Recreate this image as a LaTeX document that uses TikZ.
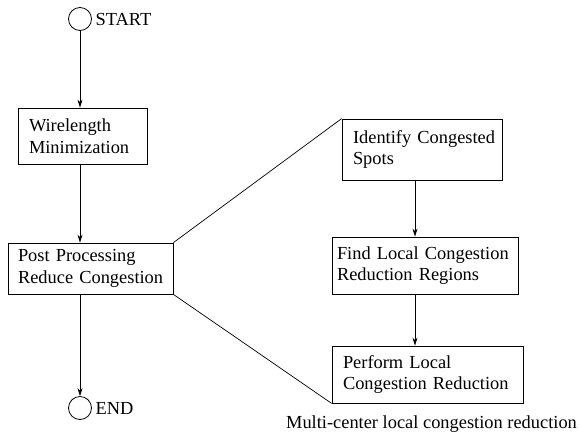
\documentclass[tikz,border=0pt]{standalone}
\usepackage{fontspec}
\setmainfont{Liberation Serif}
\usetikzlibrary{arrows.meta}
\newcommand{\lns}[2]{\mbox{#1}\\\mbox{#2}}
\begin{document}
\begin{tikzpicture}[x=1pt,y=-1pt,
  every node/.style={font=\fontsize{18.4}{21.5}\selectfont},
  term/.style={draw,circle,line width=0.8pt,minimum size=23pt,inner sep=0pt},
  lbl/.style={anchor=west,inner sep=0pt},
  box/.style={draw,line width=0.8pt,align=left,inner ysep=0pt},
  flow/.style={line width=0.8pt,-{Stealth[length=8pt,width=5pt]}},
  link/.style={line width=0.7pt}]
\useasboundingbox (0,0) rectangle (580,439);
\node[term] (start) at (80,19) {};
\node[lbl] (startl) at (95.5,19) {START};
\node[box,inner xsep=11pt,text width=107pt,minimum height=56pt] (wire) at (82.5,136) {\lns{Wirelength}{Minimization}};
\node[box,inner xsep=10pt,text width=145pt,minimum height=51pt] (post) at (90.5,268.5) {\lns{Post Processing}{Reduce Congestion}};
\node[term] (end) at (80,408) {};
\node[lbl] (endl) at (95.5,408) {END};
\node[box,inner xsep=11pt,text width=138pt,minimum height=61pt] (ident) at (422,149.5) {\lns{Identify Congested}{Spots}};
\node[box,inner xsep=5pt,text width=176pt,minimum height=57pt] (find) at (425,265.5) {\lns{Find Local Congestion}{Reduction Regions}};
\node[box,inner xsep=11pt,text width=169pt,minimum height=57pt] (perf) at (427.5,374.5) {\lns{Perform Local}{Congestion Reduction}};
\node[inner sep=0pt] (cap) at (431.5,424) {Multi-center local congestion reduction};
\coordinate (rx) at (415,0);
\draw[flow] (start) -- (start |- wire.north);
\draw[flow] (wire.south -| start) -- (post.north -| start);
\draw[flow] (post.south -| start) -- (end);
\draw[flow] (ident.south -| rx) -- (find.north -| rx);
\draw[flow] (find.south -| rx) -- (perf.north -| rx);
\draw[link] (post.north east) -- (ident.north west);
\draw[link] (post.south east) -- (perf.south west);
\end{tikzpicture}
\end{document}
